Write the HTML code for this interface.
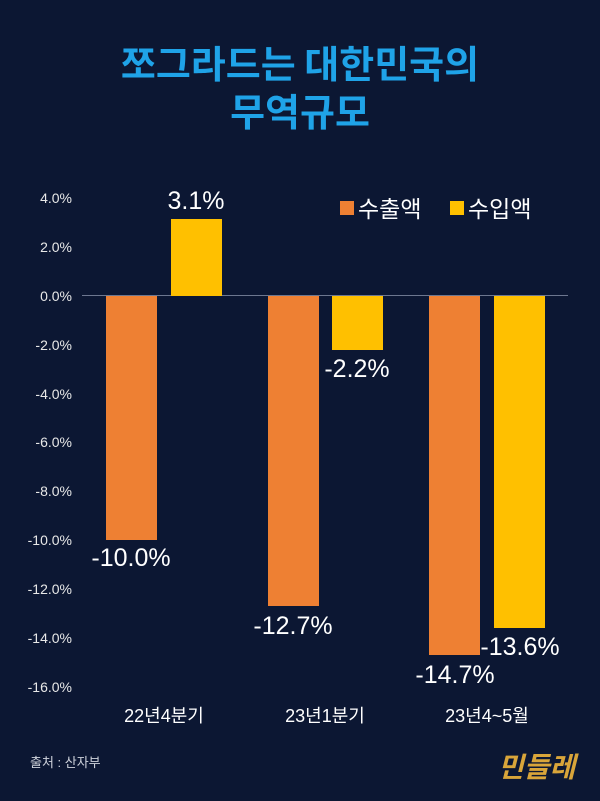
<!DOCTYPE html><html><head><meta charset="utf-8"><style>
body{margin:0;width:600px;height:801px;background:#0c1733;overflow:hidden;position:relative;font-family:"Liberation Sans","Noto Sans CJK KR",sans-serif;color:#fff}
.t{position:absolute;left:0;width:600px;text-align:center;color:#1fa3e8;font-weight:bold;font-size:38px;line-height:48px;font-family:"Noto Sans CJK KR",sans-serif}
.y{position:absolute;right:528px;font-size:14px;color:#e8e8e8;transform:translateY(-50%)}
.b{position:absolute;width:51px}
.o{background:#ee8033}.g{background:#ffc000}
.l{position:absolute;font-size:25px;font-weight:normal;transform:translateX(-50%);white-space:nowrap}
.x{position:absolute;top:702px;font-size:18px;transform:translateX(-50%);font-family:"Liberation Sans","Noto Sans CJK KR",sans-serif}
</style></head><body>
<div class="t" style="top:38px">쪼그라드는 대한민국의</div>
<div class="t" style="top:86px">무역규모</div>
<div class="y" style="top:198px">4.0%</div><div class="y" style="top:247px">2.0%</div><div class="y" style="top:296px">0.0%</div>
<div class="y" style="top:345px">-2.0%</div><div class="y" style="top:394px">-4.0%</div><div class="y" style="top:442px">-6.0%</div>
<div class="y" style="top:491px">-8.0%</div><div class="y" style="top:540px">-10.0%</div><div class="y" style="top:589px">-12.0%</div>
<div class="y" style="top:638px">-14.0%</div><div class="y" style="top:687px">-16.0%</div>
<div style="position:absolute;left:82px;top:295px;width:486px;height:1px;background:#6d7790"></div>
<div class="b o" style="left:106px;top:296px;height:244px"></div>
<div class="b g" style="left:171px;top:219px;height:77px"></div>
<div class="b o" style="left:268px;top:296px;height:310px"></div>
<div class="b g" style="left:332px;top:296px;height:54px"></div>
<div class="b o" style="left:429px;top:296px;height:359px"></div>
<div class="b g" style="left:494px;top:296px;height:332px"></div>
<div class="l" style="left:196px;top:187px">3.1%</div>
<div class="l" style="left:131px;top:544px">-10.0%</div>
<div class="l" style="left:357px;top:355px">-2.2%</div>
<div class="l" style="left:293px;top:612px">-12.7%</div>
<div class="l" style="left:455px;top:661px">-14.7%</div>
<div class="l" style="left:520px;top:633px">-13.6%</div>
<div style="position:absolute;left:340px;top:201px;width:14px;height:14px;background:#ee8033"></div>
<div style="position:absolute;left:358px;top:193px;font-size:23px;font-family:'Noto Sans CJK KR',sans-serif;line-height:28px">수출액</div>
<div style="position:absolute;left:450px;top:201px;width:14px;height:14px;background:#ffc000"></div>
<div style="position:absolute;left:468px;top:193px;font-size:23px;font-family:'Noto Sans CJK KR',sans-serif;line-height:28px">수입액</div>
<div class="x" style="left:164px">22년4분기</div>
<div class="x" style="left:325px">23년1분기</div>
<div class="x" style="left:487px">23년4~5월</div>
<div style="position:absolute;left:30px;top:752px;font-size:13px;color:#cfd3dc">출처 : 산자부</div>
<div style="position:absolute;left:498px;top:746px;font-size:28px;color:#d9a53a;font-weight:bold;font-style:italic;font-family:'Noto Sans CJK KR',sans-serif">민들레</div>
</body></html>
